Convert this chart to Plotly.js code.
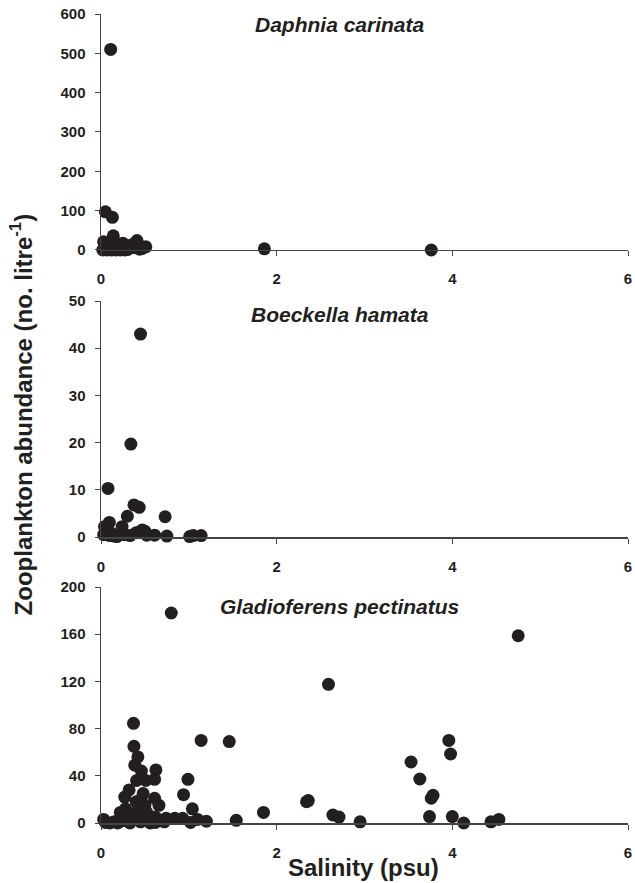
<!DOCTYPE html>
<html>
<head>
<meta charset="utf-8">
<script src="https://cdn.plot.ly/plotly-3.0.1.min.js"></script>
<style>html,body{margin:0;padding:0;background:#fff;}#chart{width:635px;height:883px;}</style>
</head>
<body>
<div id="chart"></div>
<script>
// Daphnia carinata
const daphniaSalinity = [0.11,0.05,0.13,0.14,0.03,0.05,0.08,0.10,0.12,0.15,0.18,0.20,0.22,0.25,0.28,0.30,0.33,0.35,0.38,0.41,0.44,0.47,0.51,0.02,0.07,0.17,0.27,1.86,3.76];
const daphniaAbundance = [510,97,83,36,21,5,2,12,0,8,3,15,0,17,5,1,10,13,6,24,2,4,8,0,0,0,0,3,0];
// Boeckella hamata
const boeckellaSalinity = [0.45,0.34,0.08,0.375,0.435,0.30,0.73,0.095,0.04,0.24,0.47,0.10,0.15,0.20,0.27,0.33,0.40,0.50,0.61,0.75,1.01,1.05,1.14,0.03,0.12,0.18,0.44,0.52];
const boeckellaAbundance = [43,19.7,10.3,6.8,6.3,4.4,4.3,3.1,2.2,2.2,1.5,0.3,0.2,0.4,0.5,0.3,0.9,1.2,0.4,0.2,0.1,0.3,0.3,0.5,0.8,0.1,1.0,0.4];
// Gladioferens pectinatus
const gladioSalinity = [0.80,0.37,1.14,1.46,0.375,0.42,0.385,0.46,0.625,0.405,0.51,0.61,0.99,0.32,0.27,0.455,0.61,0.94,0.50,0.66,1.04,0.22,0.35,0.43,0.52,0.62,0.74,0.84,0.93,1.10,1.20,1.54,1.85,0.03,0.05,0.10,0.15,0.19,0.25,0.30,0.33,0.45,0.56,0.62,0.72,1.02,0.28,0.40,0.48,0.36,2.36,2.34,2.59,4.75,3.96,3.98,3.53,3.63,3.76,3.78,2.64,2.71,2.95,3.74,4.00,4.13,4.44,4.53];
const gladioAbundance = [178,84.5,70,69,65,56,49,44,45,36,36,37,37,28,22,20,21,24,15,15,12,9,8,10,9,5,4,4,4,3,1.5,2.3,9,3,0.5,0,1,0,2,3,0,1,0,0.5,1,0.5,12,18,25,5,19,18,117.5,158.7,70,58.5,51.7,37.3,21,23.5,6.8,5,1,5.4,5.4,0,1,3];

const panelTitles = ['Daphnia carinata','Boeckella hamata','Gladioferens pectinatus'];
const xTicks = [0,2,4,6];
const yTicks1 = [0,100,200,300,400,500,600];
const yTicks2 = [0,10,20,30,40,50];
const yTicks3 = [0,40,80,120,160,200];

const FONT = 'Liberation Sans, Arial, sans-serif';
const INK = '#231f20';
const marker = {color: INK, size: 13, line: {width: 0}};

function tr(x, y, xa, ya) {
  return {x: x, y: y, xaxis: xa, yaxis: ya, type: 'scatter', mode: 'markers',
          marker: marker, cliponaxis: false, showlegend: false, hoverinfo: 'skip'};
}
const data = [
  tr(daphniaSalinity, daphniaAbundance, 'x', 'y'),
  tr(boeckellaSalinity, boeckellaAbundance, 'x2', 'y2'),
  tr(gladioSalinity, gladioAbundance, 'x3', 'y3')
];

function xax(anchor) {
  return {anchor: anchor, range: [0, 6], tickvals: xTicks, ticktext: xTicks.map(String),
          showgrid: false, zeroline: false, showline: true, linecolor: '#444', linewidth: 1.5,
          ticks: 'outside', ticklen: 5, tickwidth: 1, tickcolor: '#444',
          ticklabelstandoff: 10,
          tickfont: {family: FONT, size: 15, color: INK, weight: 'bold'}};
}
function yax(anchor, dom, range, ticks) {
  return {anchor: anchor, domain: dom, range: range, tickvals: ticks, ticktext: ticks.map(String),
          showgrid: false, zeroline: false, showline: true, linecolor: '#444', linewidth: 1.5,
          ticks: 'outside', ticklen: 5, tickwidth: 1, tickcolor: '#444',
          ticklabelstandoff: 6,
          tickfont: {family: FONT, size: 15, color: INK, weight: 'bold'}};
}

const layout = {
  width: 635, height: 883,
  margin: {l: 101, r: 7, t: 14, b: 60},
  paper_bgcolor: '#fff', plot_bgcolor: '#fff',
  font: {family: FONT, color: INK},
  xaxis: xax('y'), xaxis2: xax('y2'), xaxis3: xax('y3'),
  yaxis: yax('x', [0.7083, 1], [0, 600], yTicks1),
  yaxis2: yax('x2', [0.3535, 0.6452], [0, 50], yTicks2),
  yaxis3: yax('x3', [0, 0.2917], [0, 200], yTicks3),
  annotations: [
    {text: '<b><i>' + panelTitles[0] + '</i></b>', xref: 'paper', yref: 'paper', x: 0.4535, y: 0.9876,
     showarrow: false, xanchor: 'center', yanchor: 'middle', font: {family: FONT, size: 21, color: INK}},
    {text: '<b><i>' + panelTitles[1] + '</i></b>', xref: 'paper', yref: 'paper', x: 0.4535, y: 0.628,
     showarrow: false, xanchor: 'center', yanchor: 'middle', font: {family: FONT, size: 21, color: INK}},
    {text: '<b><i>' + panelTitles[2] + '</i></b>', xref: 'paper', yref: 'paper', x: 0.4535, y: 0.268,
     showarrow: false, xanchor: 'center', yanchor: 'middle', font: {family: FONT, size: 21, color: INK}},
    {text: '<b>Zooplankton abundance (no. litre<sup>-1</sup>)</b>', xref: 'paper', yref: 'paper',
     x: -0.1500, y: 0.505, textangle: -90, showarrow: false, xanchor: 'center', yanchor: 'middle',
     font: {family: FONT, size: 24, color: INK}},
    {text: '<b>Salinity (psu)</b>', xref: 'paper', yref: 'paper', x: 0.499, y: -0.0544,
     showarrow: false, xanchor: 'center', yanchor: 'middle', font: {family: FONT, size: 24, color: INK}}
  ]
};

Plotly.newPlot('chart', data, layout, {displayModeBar: false, staticPlot: true});
</script>
</body>
</html>
